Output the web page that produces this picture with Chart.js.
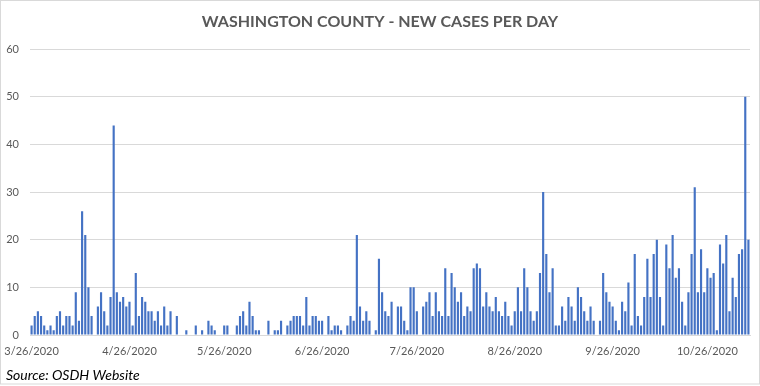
<!DOCTYPE html>
<html>
<head>
<meta charset="utf-8">
<script src="https://cdn.jsdelivr.net/npm/chart.js@4.4.1/dist/chart.umd.min.js"></script>
<style>
html,body{margin:0;padding:0;background:#fff;overflow:hidden}
#wrap{position:relative;width:760px;height:386px}
</style>
</head>
<body>
<div id="wrap"><canvas id="c" width="760" height="386"></canvas></div>
<script>
const chartTitle = 'WASHINGTON COUNTY - NEW CASES PER DAY';
const sourceNote = 'Source: OSDH Website';

const categories = [
 '3/26/2020','3/27/2020','3/28/2020','3/29/2020','3/30/2020','3/31/2020',
 '4/1/2020','4/2/2020','4/3/2020','4/4/2020','4/5/2020','4/6/2020','4/7/2020','4/8/2020','4/9/2020','4/10/2020',
 '4/11/2020','4/12/2020','4/13/2020','4/14/2020','4/15/2020','4/16/2020','4/17/2020','4/18/2020','4/19/2020','4/20/2020',
 '4/21/2020','4/22/2020','4/23/2020','4/24/2020','4/25/2020','4/26/2020','4/27/2020','4/28/2020','4/29/2020','4/30/2020',
 '5/1/2020','5/2/2020','5/3/2020','5/4/2020','5/5/2020','5/6/2020','5/7/2020','5/8/2020','5/9/2020','5/10/2020',
 '5/11/2020','5/12/2020','5/13/2020','5/14/2020','5/15/2020','5/16/2020','5/17/2020','5/18/2020','5/19/2020','5/20/2020',
 '5/21/2020','5/22/2020','5/23/2020','5/24/2020','5/25/2020','5/26/2020','5/27/2020','5/28/2020','5/29/2020','5/30/2020','5/31/2020',
 '6/1/2020','6/2/2020','6/3/2020','6/4/2020','6/5/2020','6/6/2020','6/7/2020','6/8/2020','6/9/2020','6/10/2020',
 '6/11/2020','6/12/2020','6/13/2020','6/14/2020','6/15/2020','6/16/2020','6/17/2020','6/18/2020','6/19/2020','6/20/2020',
 '6/21/2020','6/22/2020','6/23/2020','6/24/2020','6/25/2020','6/26/2020','6/27/2020','6/28/2020','6/29/2020','6/30/2020',
 '7/1/2020','7/2/2020','7/3/2020','7/4/2020','7/5/2020','7/6/2020','7/7/2020','7/8/2020','7/9/2020','7/10/2020',
 '7/11/2020','7/12/2020','7/13/2020','7/14/2020','7/15/2020','7/16/2020','7/17/2020','7/18/2020','7/19/2020','7/20/2020',
 '7/21/2020','7/22/2020','7/23/2020','7/24/2020','7/25/2020','7/26/2020','7/27/2020','7/28/2020','7/29/2020','7/30/2020','7/31/2020',
 '8/1/2020','8/2/2020','8/3/2020','8/4/2020','8/5/2020','8/6/2020','8/7/2020','8/8/2020','8/9/2020','8/10/2020',
 '8/11/2020','8/12/2020','8/13/2020','8/14/2020','8/15/2020','8/16/2020','8/17/2020','8/18/2020','8/19/2020','8/20/2020',
 '8/21/2020','8/22/2020','8/23/2020','8/24/2020','8/25/2020','8/26/2020','8/27/2020','8/28/2020','8/29/2020','8/30/2020','8/31/2020',
 '9/1/2020','9/2/2020','9/3/2020','9/4/2020','9/5/2020','9/6/2020','9/7/2020','9/8/2020','9/9/2020','9/10/2020',
 '9/11/2020','9/12/2020','9/13/2020','9/14/2020','9/15/2020','9/16/2020','9/17/2020','9/18/2020','9/19/2020','9/20/2020',
 '9/21/2020','9/22/2020','9/23/2020','9/24/2020','9/25/2020','9/26/2020','9/27/2020','9/28/2020','9/29/2020','9/30/2020',
 '10/1/2020','10/2/2020','10/3/2020','10/4/2020','10/5/2020','10/6/2020','10/7/2020','10/8/2020','10/9/2020','10/10/2020',
 '10/11/2020','10/12/2020','10/13/2020','10/14/2020','10/15/2020','10/16/2020','10/17/2020','10/18/2020','10/19/2020','10/20/2020',
 '10/21/2020','10/22/2020','10/23/2020','10/24/2020','10/25/2020','10/26/2020','10/27/2020','10/28/2020','10/29/2020','10/30/2020','10/31/2020',
 '11/1/2020','11/2/2020','11/3/2020','11/4/2020','11/5/2020','11/6/2020','11/7/2020','11/8/2020'
];

const newCases = [
 2,4,5,4,2,1,2,1,4,5,
 2,4,4,2,9,3,26,21,10,4,
 0,6,9,5,2,8,44,9,7,8,
 6,7,2,13,4,8,7,5,5,3,
 5,2,6,2,5,0,4,0,0,1,
 0,0,2,0,1,0,3,2,1,0,
 0,2,2,0,0,2,4,5,2,7,
 4,1,1,0,0,3,0,1,1,3,
 0,2,3,4,4,4,2,8,2,4,
 4,3,3,0,4,1,2,2,1,0,
 2,4,3,21,6,3,5,3,0,1,
 16,9,5,4,7,0,6,6,3,1,
 10,10,5,0,6,7,9,4,9,5,
 4,14,4,13,10,7,9,4,6,5,
 14,15,14,6,9,6,5,8,5,4,
 7,4,2,5,10,5,14,10,5,3,
 5,13,30,17,9,14,2,2,6,3,
 8,6,3,10,8,5,3,6,3,0,
 3,13,9,7,6,3,1,7,5,11,
 2,17,4,2,8,16,8,17,20,8,
 2,19,14,21,12,14,7,2,9,17,
 31,9,18,9,14,12,13,1,19,15,
 21,5,12,8,17,18,50,20
];

const tickLabels = ['3/26/2020','4/26/2020','5/26/2020','6/26/2020','7/26/2020','8/26/2020','9/26/2020','10/26/2020'];
const yMin = 0, yMax = 60, yStep = 10;

const framePlugin = {
  id: 'frame',
  beforeDraw(chart) {
    const ctx = chart.ctx;
    ctx.save();
    ctx.fillStyle = '#ffffff';
    ctx.fillRect(0, 0, chart.width, chart.height);
    ctx.restore();
  },
  afterDraw(chart) {
    const ctx = chart.ctx;
    ctx.save();
    ctx.strokeStyle = '#d9d9d9';
    ctx.lineWidth = 1;
    ctx.strokeRect(0.5, 0.5, chart.width - 1, chart.height - 2.5);
    ctx.font = 'italic 14px Lato';
    ctx.fillStyle = '#000000';
    ctx.textBaseline = 'alphabetic';
    ctx.textAlign = 'left';
    ctx.fillText(sourceNote, 6, 380);
    ctx.restore();
  }
};

new Chart(document.getElementById('c'), {
  type: 'bar',
  data: {
    labels: categories,
    datasets: [{
      label: 'New cases',
      data: newCases,
      backgroundColor: '#4472C4',
      borderWidth: 0,
      barPercentage: 0.68,
      categoryPercentage: 1.0
    }]
  },
  options: {
    responsive: false,
    animation: false,
    devicePixelRatio: 1,
    layout: { padding: { top: 0, left: 0, right: 0, bottom: 31 } },
    plugins: {
      legend: { display: false },
      tooltip: { enabled: false },
      title: {
        display: true,
        text: chartTitle,
        color: '#595959',
        font: { family: 'Lato', size: 16, weight: 'bold' },
        padding: { top: 12, bottom: 18 }
      }
    },
    scales: {
      x: {
        type: 'category',
        afterFit(scale) { scale.height = 20; scale.paddingLeft = 0; scale.paddingRight = 0; },
        grid: { display: false, drawTicks: false },
        border: { display: true, color: '#d9d9d9', width: 1 },
        ticks: {
          autoSkip: false,
          maxRotation: 0,
          minRotation: 0,
          padding: 10,
          color: '#595959',
          font: { family: 'Lato', size: 11 },
          callback(value) {
            const lab = this.getLabelForValue(value);
            return tickLabels.includes(lab) ? lab : null;
          }
        }
      },
      y: {
        min: yMin,
        max: yMax,
        afterFit(scale) { scale.width = 30; scale.paddingTop = 0; scale.paddingBottom = 0; },
        grid: { color: '#d9d9d9', drawTicks: false },
        border: { display: false },
        ticks: {
          stepSize: yStep,
          padding: 11,
          color: '#595959',
          font: { family: 'Lato', size: 11 }
        }
      },
      yRight: {
        position: 'right',
        display: true,
        afterFit(scale) { scale.width = 10; },
        grid: { display: false, drawTicks: false },
        border: { display: false },
        ticks: { display: false }
      }
    }
  },
  plugins: [framePlugin]
});
</script>
</body>
</html>
